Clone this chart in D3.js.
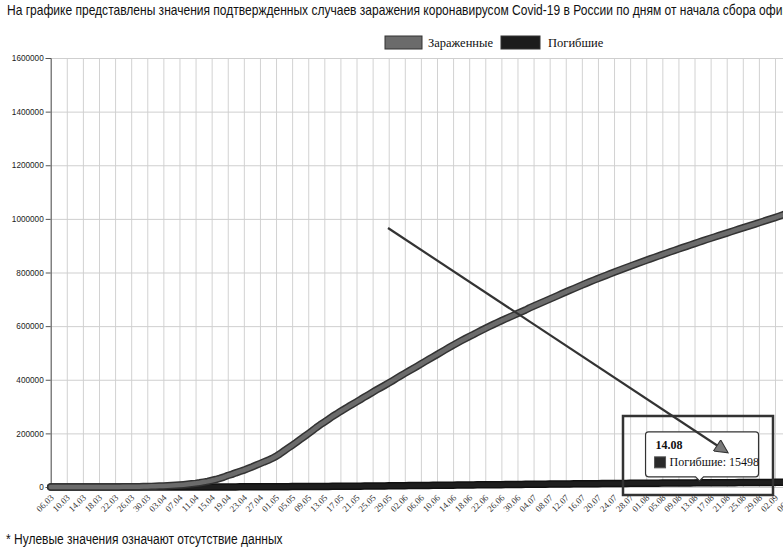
<!DOCTYPE html>
<html>
<head>
<meta charset="utf-8">
<script src="https://cdn.jsdelivr.net/npm/d3@7"></script>
<style>
html, body { margin: 0; padding: 0; background: #fff; overflow: hidden; }
</style>
</head>
<body>
<svg id="chart" width="783" height="550"></svg>
<script>
var titleText = "На графике представлены значения подтвержденных случаев заражения коронавирусом Covid-19 в России по дням от начала сбора официальной статистики";
var titleShown = "На графике представлены значения подтвержденных случаев заражения коронавирусом Covid-19 в России по дням от начала сбора офи";
var noteText = "* Нулевые значения означают отсутствие данных";
var seriesNames = ["Зараженные", "Погибшие"];
var startDay = "06.03.2020";

// cumulative cases, one value per day from 06.03
var infected = [
  10, 14, 17, 17, 20, 28, 34, 45, 59, 63, 90, 114, 147, 199, 253, 306, 367, 438, 495, 658, 840, 1036, 1264, 1534, 1836, 2337,
  2777, 3548, 4149, 4731, 5389, 6343, 7497, 8672, 10131, 11917, 13584, 15770, 18328, 21102, 24490, 27938, 32008, 36793, 42853, 47121,
  52763, 57999, 62773, 68622, 74588, 80949, 87147, 93558, 99399, 106498,
  114431, 124054, 134687, 145268, 155370, 165929, 177160, 187859, 198676, 209688, 221344, 232243, 242271, 252245, 262843, 272043,
  281752, 290678, 299941, 308705, 317554, 326448, 335882, 344481, 353427, 362342, 370680, 379051, 387623, 396575, 405843,
  414878, 423741, 432277, 441108, 449834, 458689, 467673, 476658, 485253, 493657, 502436, 511423, 520129, 528964, 537210, 545458,
  553301, 561091, 568292, 576162, 583879, 591465, 598878, 606043, 613148, 619936, 626779, 633563, 640246, 646929,
  653479, 660231, 667883, 674515, 681251, 687862, 694230, 700792, 707301, 713936, 720547, 727162, 733699, 739947, 746369, 752797,
  759203, 765437, 771546, 777486, 783328, 789190, 795038, 800849, 806720, 812485, 818120, 823515, 828990, 834499, 839981,
  845443, 850870, 856264, 861423, 866627, 871894, 877135, 882347, 887536, 892654, 897599, 902701, 907758, 912823, 917884, 922853,
  927745, 932493, 937321, 942106, 946976, 951897, 956749, 961493, 966189, 970865, 975576, 980405, 985346, 990326, 995319,
  1000048, 1004897, 1009995, 1015105, 1020310
];

// cumulative deaths, same days
var deaths = [
  0, 0, 0, 0, 0, 0, 0, 0, 0, 0, 0, 0, 0, 1, 1, 1, 1, 1, 1, 3, 3, 4, 4, 8, 9, 17,
  22, 30, 34, 43, 45, 47, 58, 63, 76, 94, 106, 130, 148, 170, 198, 232, 273, 313, 361, 405,
  456, 513, 555, 615, 681, 747, 794, 867, 972, 1073,
  1169, 1222, 1280, 1356, 1451, 1537, 1625, 1723, 1827, 1915, 2009, 2116, 2212, 2305, 2418, 2537,
  2631, 2722, 2837, 2972, 3099, 3249, 3388, 3541, 3633, 3807, 3968, 4142, 4374, 4555, 4693,
  4855, 5037, 5215, 5384, 5528, 5725, 5859, 5971, 6142, 6358, 6532, 6705, 6829, 6948, 7081, 7284,
  7478, 7660, 7841, 7992, 8111, 8206, 8359, 8513, 8605, 8781, 8969, 9152, 9306, 9536,
  9683, 9859, 10027, 10161, 10296, 10494, 10667, 10843, 11017, 11188, 11335, 11439, 11614, 11753, 11917, 12080,
  12247, 12342, 12427, 12580, 12745, 12892, 13046, 13172, 13269, 13354, 13504, 13650, 13739, 13851, 13963,
  14058, 14128, 14207, 14351, 14490, 14606, 14698, 14827, 14903, 14931, 15131, 15231, 15384, 15498, 15585, 15656,
  15685, 15836, 15951, 16099, 16189, 16268, 16310, 16383, 16524, 16642, 16683, 16804, 16914, 17025, 17045,
  17176, 17299, 17414, 17528, 17649
];

var tickLabels = ["06.03", "10.03", "14.03", "18.03", "22.03", "26.03", "30.03", "03.04", "07.04", "11.04", "15.04", "19.04",
  "23.04", "27.04", "01.05", "05.05", "09.05", "13.05", "17.05", "21.05", "25.05", "29.05", "02.06", "06.06", "10.06", "14.06",
  "18.06", "22.06", "26.06", "30.06", "04.07", "08.07", "12.07", "16.07", "20.07", "24.07", "28.07", "01.08", "05.08", "09.08",
  "13.08", "17.08", "21.08", "25.08", "29.08", "02.09", "06.09"];
var yTicks = [0, 200000, 400000, 600000, 800000, 1000000, 1200000, 1400000, 1600000];
var tipDay = "14.08";

var plotLeft = 50.7, plotTop = 58, plotBottom = 487;
var parse = d3.timeParse("%d.%m.%Y");
var start = parse(startDay);

var x = d3.scaleTime()
    .domain([start, parse("02.09.2020")])
    .range([plotLeft, 775]);
var y = d3.scaleLinear()
    .domain([0, 1600000])
    .range([plotBottom, plotTop]);

var svg = d3.select("#chart");

// narrow sans text: a normal font squeezed horizontally to the width seen in the picture
var sans = "'Liberation Sans', Arial, sans-serif";
function squeezed(txt, shown, px, py, size, width) {
  var t = svg.append("text")
      .style("font-family", sans)
      .style("font-size", size + "px")
      .attr("fill", "#111")
      .text(shown);
  var sx = width / t.node().getComputedTextLength();
  t.text(txt).attr("transform", "translate(" + px + "," + py + ") scale(" + sx + ",1)");
  return t;
}
squeezed(titleText, titleShown, 7, 15, 14.5, 776);

// legend
var legendX = [385, 501];
var legendFill = ["#6b6b6b", "#1c1c1c"];
var legend = svg.selectAll("g.legend")
    .data(seriesNames)
    .enter().append("g")
    .attr("class", "legend")
    .attr("transform", function(d, i) { return "translate(" + legendX[i] + ",36)"; });
legend.append("rect")
    .attr("width", function(d, i) { return i == 0 ? 37 : 39; })
    .attr("height", 13)
    .attr("fill", function(d, i) { return legendFill[i]; })
    .attr("stroke", "#333");
legend.append("text")
    .attr("x", function(d, i) { return i == 0 ? 43 : 47; })
    .attr("y", 11)
    .style("font-family", "'Liberation Serif', serif")
    .style("font-size", "12.5px")
    .attr("fill", "#111")
    .text(function(d) { return d; });

// grid
var tickDates = tickLabels.map(function(t) { return parse(t + ".2020"); });
svg.append("g")
    .attr("class", "vgrid")
    .attr("transform", "translate(0," + plotBottom + ")")
    .call(d3.axisBottom(x).tickValues(tickDates).tickSize(-(plotBottom - plotTop)).tickFormat(""))
    .call(function(g) { g.select(".domain").remove(); })
    .selectAll("line").attr("stroke", "#d2d2d2");

svg.append("g")
    .attr("class", "hgrid")
    .attr("transform", "translate(" + plotLeft + ",0)")
    .call(d3.axisLeft(y).tickValues(yTicks).tickSize(-800).tickFormat(""))
    .call(function(g) { g.select(".domain").remove(); })
    .selectAll("line").attr("stroke", "#cfcfcf");

// y axis
var yAxis = svg.append("g")
    .attr("transform", "translate(" + plotLeft + ",0)")
    .call(d3.axisLeft(y).tickValues(yTicks).tickSize(5).tickPadding(2).tickFormat(d3.format("d")));
yAxis.select(".domain").attr("stroke", "#555");
yAxis.selectAll("line").attr("stroke", "#555");
yAxis.selectAll("text")
    .style("font-family", sans)
    .style("font-size", "8.2px")
    .attr("fill", "#222");

// x axis labels
var xAxis = svg.append("g")
    .attr("transform", "translate(0," + plotBottom + ")")
    .call(d3.axisBottom(x).tickValues(tickDates).tickSize(0).tickFormat(d3.timeFormat("%d.%m")));
xAxis.select(".domain").remove();
xAxis.selectAll("text")
    .attr("x", 0).attr("y", 0).attr("dy", "0.35em")
    .attr("transform", "translate(1,9) rotate(-45)")
    .style("text-anchor", "end")
    .style("font-family", "'Liberation Serif', serif")
    .style("font-size", "9px")
    .attr("fill", "#333");

// series
function rows(vals) {
  return vals.map(function(v, i) { return { date: d3.timeDay.offset(start, i), v: v }; });
}
var line = d3.line()
    .x(function(d) { return x(d.date); })
    .y(function(d) { return y(d.v); });

var series = [
  { data: rows(deaths), outer: "#111", inner: "#1e1e1e" },
  { data: rows(infected), outer: "#333", inner: "#6b6b6b" }
];
series.forEach(function(s) {
  svg.append("path").datum(s.data)
      .attr("d", line).attr("fill", "none")
      .attr("stroke", s.outer).attr("stroke-width", 7.5)
      .attr("stroke-linecap", "round").attr("stroke-linejoin", "round");
  svg.append("path").datum(s.data)
      .attr("d", line).attr("fill", "none")
      .attr("stroke", s.inner).attr("stroke-width", 4.5)
      .attr("stroke-linecap", "round").attr("stroke-linejoin", "round");
});

// arrow head marker
var defs = svg.append("defs");
defs.append("marker")
    .attr("id", "head")
    .attr("viewBox", "0 0 10 10")
    .attr("refX", 9).attr("refY", 5)
    .attr("markerWidth", 7).attr("markerHeight", 6)
    .attr("markerUnits", "strokeWidth")
    .attr("orient", "auto")
  .append("path")
    .attr("d", "M0,0 L10,5 L0,10 Z")
    .attr("fill", "#7a7a7a").attr("stroke", "#333").attr("stroke-width", 0.8);

// tooltip
var tipDate = parse(tipDay + ".2020");
var tipIdx = d3.timeDay.count(start, tipDate);
var tx = x(tipDate), ty = y(deaths[tipIdx]);
var tip = svg.append("g").attr("transform", "translate(" + tx + "," + ty + ")");
var bl = -53, br = 60, bt = -51, bb = -6, r = 3;
tip.append("path")
    .attr("d", "M" + (bl + r) + "," + bt + " H" + (br - r) + " Q" + br + "," + bt + " " + br + "," + (bt + r) +
      " V" + (bb - r) + " Q" + br + "," + bb + " " + (br - r) + "," + bb +
      " H5 L1,-2 L-3," + bb + " H" + (bl + r) + " Q" + bl + "," + bb + " " + bl + "," + (bb - r) +
      " V" + (bt + r) + " Q" + bl + "," + bt + " " + (bl + r) + "," + bt + " Z")
    .attr("fill", "#fff").attr("stroke", "#333").attr("stroke-width", 1.2);
tip.append("text")
    .attr("x", -43).attr("y", -34)
    .style("font-family", "'Liberation Serif', serif")
    .style("font-size", "12px").style("font-weight", "bold")
    .attr("fill", "#111")
    .text(tipDay);
tip.append("rect")
    .attr("x", -44).attr("y", -26).attr("width", 11).attr("height", 11)
    .attr("fill", "#2a2a2a").attr("stroke", "#555");
tip.append("text")
    .attr("x", -29).attr("y", -17)
    .style("font-family", "'Liberation Serif', serif")
    .style("font-size", "12px")
    .attr("fill", "#111")
    .text(seriesNames[1] + ": " + deaths[tipIdx]);

svg.append("line")
    .attr("x1", 388).attr("y1", 228)
    .attr("x2", 727).attr("y2", 452)
    .attr("stroke", "#333").attr("stroke-width", 2.2)
    .attr("marker-end", "url(#head)");

// highlight frame
svg.append("rect")
    .attr("x", 623).attr("y", 416).attr("width", 150).attr("height", 79)
    .attr("fill", "none").attr("stroke", "#333").attr("stroke-width", 2.5);

// footnote
squeezed(noteText, noteText, 6, 544, 14.5, 277);
</script>
</body>
</html>
